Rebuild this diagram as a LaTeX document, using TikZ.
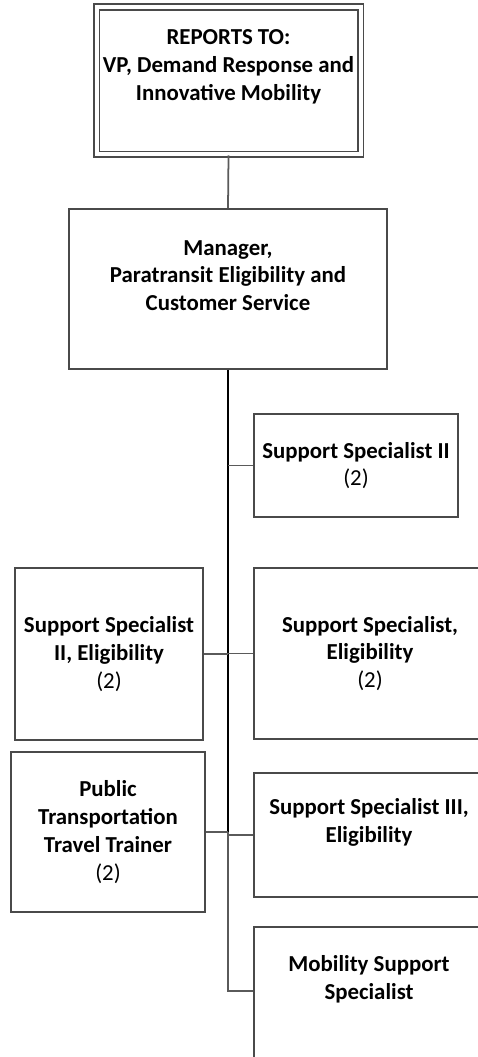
\documentclass[tikz,border=0pt]{standalone}
\usepackage{fontspec}
\setmainfont{Carlito}
\usepackage{tikz}
\definecolor{boxgray}{HTML}{4A4A4A}
\definecolor{linkgray}{HTML}{5A5A5A}

\begin{document}
\begin{tikzpicture}[
  post/.style={draw=boxgray, line width=1pt, align=center, inner sep=0pt,
    font=\fontsize{13}{15.8}\selectfont},
  title/.style={align=center, inner sep=0pt, font=\fontsize{13}{15.8}\selectfont\bfseries},
  link/.style={draw=linkgray, line width=1pt},
  trunk/.style={draw=black, line width=1.5pt}]
\useasboundingbox (0,0) rectangle (9.56,-21.14);
\node[post, double, double distance=0.08cm, minimum width=5.28cm, minimum height=2.95cm] (reports) at (4.57,-1.615) {};
\node[title] (reportstext) at (4.57,-1.34) {REPORTS TO:\\VP, Demand Response and\\Innovative Mobility};
\node[post, minimum width=6.36cm, minimum height=3.2cm] (manager) at (4.56,-5.78) {};
\node[title] (managertext) at (4.56,-5.51) {Manager,\\Paratransit Eligibility and\\Customer Service};
\node[post, minimum width=4.08cm, minimum height=2.06cm] (ssii) at (7.12,-9.31) {\textbf{Support Specialist II}\\(2)};
\node[post, minimum width=3.76cm, minimum height=3.44cm] (ssiielig) at (2.18,-13.08) {\textbf{Support Specialist}\\\textbf{II, Eligibility}\\(2)};
\node[post, minimum width=4.64cm, minimum height=3.42cm] (sselig) at (7.40,-13.07) {\textbf{Support Specialist,}\\\textbf{Eligibility}\\(2)};
\node[post, minimum width=3.88cm, minimum height=3.2cm] (trainer) at (2.16,-16.64) {\textbf{Public}\\\textbf{Transportation}\\\textbf{Travel Trainer}\\(2)};
\node[post, minimum width=4.64cm, minimum height=2.48cm] (ssiii) at (7.40,-16.70) {};
\node[title] (ssiiitext) at (7.38,-16.45) {Support Specialist III,\\Eligibility};
\node[post, minimum width=4.64cm, minimum height=3.06cm] (mobility) at (7.40,-20.07) {};
\node[title] (mobilitytext) at (7.38,-19.58) {Mobility Support\\Specialist};
\coordinate (mobilityin) at ([yshift=-1.3cm]mobility.north west);
% reporting lines
\draw[link] (reports.south) -- (manager.north);
\draw[trunk] (manager.south) -- (manager.south |- trainer.east);
\draw[link] (manager.south |- trainer.east) |- (mobilityin);
\draw[link] (ssii.west) -- (ssii.west -| manager.south);
\draw[link] (ssiielig.east) -- (ssiielig.east -| manager.south);
\draw[link] (sselig.west) -- (sselig.west -| manager.south);
\draw[link] (trainer.east) -- (trainer.east -| manager.south);
\draw[link] (ssiii.west) -- (ssiii.west -| manager.south);
\end{tikzpicture}
\end{document}
